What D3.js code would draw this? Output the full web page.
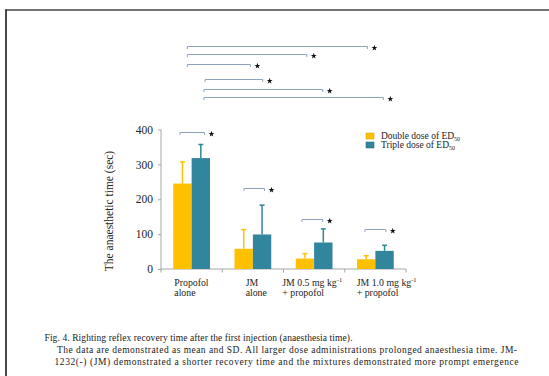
<!DOCTYPE html>
<html><head><meta charset="utf-8">
<script src="https://cdn.jsdelivr.net/npm/d3@7"></script>
<style>body{margin:0;background:#fff}svg{display:block}text{font-family:"Liberation Serif",serif;fill:#222}</style>
</head><body>
<svg id="c" width="549" height="376"></svg>
<script>
const categories = [["Propofol","alone"],["JM","alone"],["JM 0.5 mg kg|-1","+ propofol"],["JM 1.0 mg kg|-1","+ propofol"]];
const catKeys = ["Propofol alone","JM alone","JM 0.5 + propofol","JM 1.0 + propofol"];
const series = ["Double dose of ED|50","Triple dose of ED|50"];
const doubleMean = [245, 58, 30, 28];
const doubleSD = [62, 55, 14, 10];
const tripleMean = [318, 99, 76, 52];
const tripleSD = [39, 84, 39, 16];
const yTicks = [0, 100, 200, 300, 400];
// brackets: [x from, x to] in category index units, y in data units
const groupBrackets = [[-0.19, 0.21, 393], [0.855, 1.19, 233], [1.8, 2.14, 144], [2.83, 3.17, 115]];
const topBrackets = [[-0.07, 2.87, 640], [-0.07, 1.88, 617], [-0.07, 0.96, 588], [0.22, 1.16, 544], [0.2, 2.14, 517], [0.2, 3.13, 494]];
const caption = [
 "Fig. 4. Righting reflex recovery time after the first injection (anaesthesia time).",
 "The data are demonstrated as mean and SD. All larger dose administrations prolonged anaesthesia time. JM-",
 "1232(-) (JM) demonstrated a shorter recovery time and the mixtures demonstrated more prompt emergence"
];
const colors = ["#FFC000", "#31859C"];
// layout: left edge of each x label relative to its category band start
const labelDx = [13.3, 23.4, -1.2, 12];

const svg = d3.select("#c");
// frame
svg.append("line").attr("x1",6).attr("x2",549).attr("y1",10).attr("y2",10).attr("stroke","#444").attr("stroke-width",1.5);
svg.append("line").attr("x1",6).attr("x2",6).attr("y1",9.3).attr("y2",376).attr("stroke","#333").attr("stroke-width",1.8);

const y = d3.scaleLinear().domain([0,400]).range([269,129.5]);
const x0 = d3.scaleBand().domain(catKeys).range([161,406]).padding(0);
const x1 = d3.scaleBand().domain([0,1]).range([x0.bandwidth()*0.2, x0.bandwidth()*0.8]);
const xc = d3.scaleLinear().domain([0,3]).range([x0(catKeys[0])+x0.bandwidth()/2, x0(catKeys[3])+x0.bandwidth()/2]);

// axes
const yAxis = svg.append("g").attr("transform","translate(161,0)").call(d3.axisLeft(y).tickValues(yTicks).tickSize(3).tickPadding(5));
yAxis.selectAll("path,line").attr("stroke","#a6a6a6");
yAxis.selectAll("text").attr("font-family","Liberation Serif").attr("font-size",11.5).attr("fill","#333");
yAxis.select("path").attr("d","M0,"+y(0)+"V"+y(400)).attr("stroke","#a6a6a6");
const xAxis = svg.append("g").attr("transform","translate(0,"+y(0)+")");
xAxis.append("line").attr("x1",161).attr("x2",406).attr("stroke","#a6a6a6");
xAxis.selectAll(".tk").data(catKeys.concat(["end"])).join("line")
  .attr("x1",(d,i)=>i<4?x0(d):x0.range()[1]).attr("x2",(d,i)=>i<4?x0(d):x0.range()[1])
  .attr("y1",0).attr("y2",3.5).attr("stroke","#a6a6a6");

// x labels
categories.forEach((lines,i)=>{
  const t = svg.append("text").attr("font-size",9.8).attr("fill","#222")
    .attr("transform","translate("+(x0(catKeys[i])+labelDx[i])+",0)");
  lines.forEach((ln,j)=>{
    const [main,sup] = ln.split("|");
    t.append("tspan").attr("x",0).attr("y",285.5+j*10.5).text(main);
    if(sup) t.append("tspan").attr("dy",-3.5).attr("font-size",6.5).text(sup);
  });
});

// bars
const means = [doubleMean, tripleMean], sds = [doubleSD, tripleSD];
means.forEach((m,s)=>{
  svg.append("g").selectAll("rect").data(m).join("rect")
    .attr("x",(d,i)=>x0(catKeys[i])+x1(s)).attr("width",x1.bandwidth())
    .attr("y",d=>y(d)).attr("height",d=>y(0)-y(d)).attr("fill",colors[s]);
  const g = svg.append("g").attr("stroke",colors[s]).attr("stroke-width",1.5);
  m.forEach((d,i)=>{
    const cx = x0(catKeys[i])+x1(s)+x1.bandwidth()/2;
    g.append("line").attr("x1",cx).attr("x2",cx).attr("y1",y(d)).attr("y2",y(d+sds[s][i]));
    g.append("line").attr("x1",cx-2.5).attr("x2",cx+2.5).attr("y1",y(d+sds[s][i])).attr("y2",y(d+sds[s][i]));
  });
});

// brackets
const star = d3.symbol(d3.symbolStar).size(11)();
function bracket(b){
  const [a,c,v] = b; const xa = xc(a), xb = xc(c), yy = Math.round(y(v))+0.5;
  svg.append("path").attr("d",`M${xa},${yy+2.5}V${yy}H${xb}V${yy+2.5}`).attr("fill","none").attr("stroke","#8ea3bd").attr("stroke-width",1);
  svg.append("path").attr("d",star).attr("transform",`translate(${xb+7},${yy+1.5})`).attr("fill","#111");
}
groupBrackets.forEach(bracket);
topBrackets.forEach(bracket);

// legend
series.forEach((sname,i)=>{
  const [main,sub] = sname.split("|");
  const ly = 136 + i*9;
  svg.append("rect").attr("x",366).attr("y",ly-3).attr("width",8).attr("height",6).attr("fill",colors[i]).attr("stroke",i==0?"#c9a000":"#1e5f78").attr("stroke-width",0.5);
  const t = svg.append("text").attr("x",381).attr("y",ly+3).attr("font-size",9.5).attr("fill","#222").text(main);
  t.append("tspan").attr("dy",2).attr("font-size",6).text(sub);
});

// y title
svg.append("text").attr("transform","translate(113,211) rotate(-90)").attr("text-anchor","middle").attr("font-size",11.5).attr("fill","#222").text("The anaesthetic time (sec)");

// caption
const capX = [44.5, 57, 54.5], capY = [341, 353, 365], capW = [308, 460, 464];
caption.forEach((c,i)=>{
  svg.append("text").attr("x",capX[i]).attr("y",capY[i]).attr("font-size",9.5).attr("fill","#222")
    .attr("textLength",capW[i]).attr("lengthAdjust","spacing").text(c);
});
</script>
</body></html>
